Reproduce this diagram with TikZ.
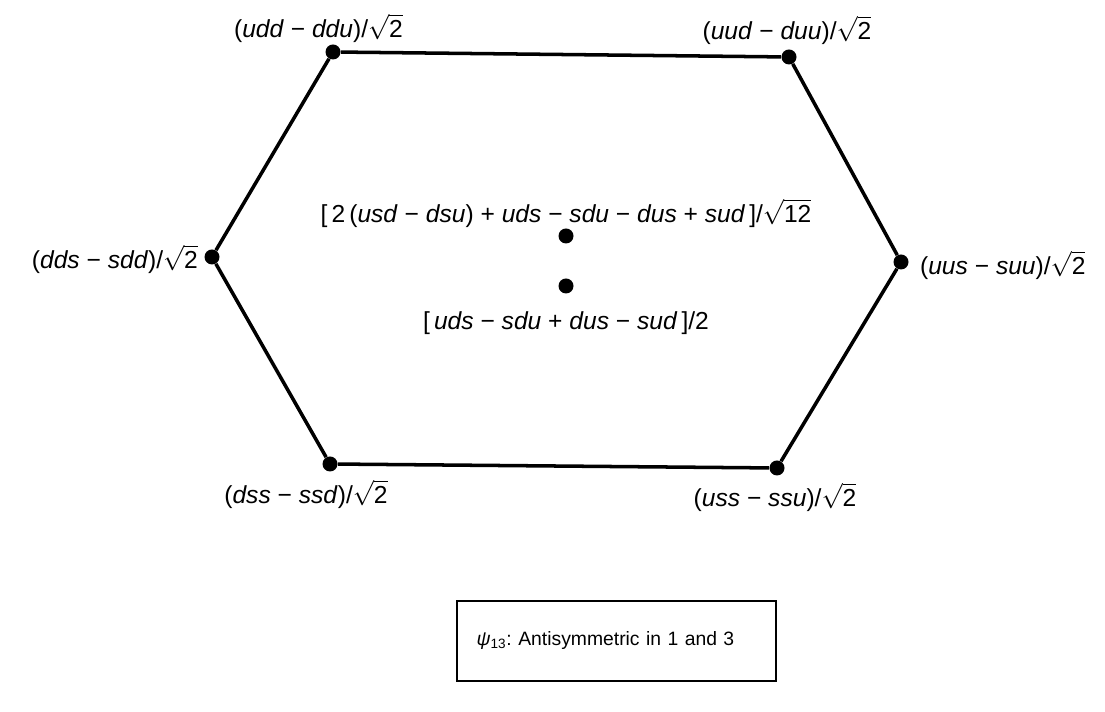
\documentclass[tikz,border=0pt]{standalone}
\usepackage{fontspec}
\setmainfont{Liberation Sans}
\usepackage{tikz}
\frenchspacing

\newcommand{\qk}[1]{\textit{#1}}
\newcommand{\rt}[1]{$\sqrt{\mbox{#1}}$}

\begin{document}
\begin{tikzpicture}[
    font=\fontsize{14}{17}\selectfont,
    vertex/.style={circle, fill=black, inner sep=0pt, minimum size=0.3cm},
    edge/.style={line width=2pt},
    lbl/.style={inner sep=1pt}
  ]
   \useasboundingbox (0,0) rectangle (22.1,14.24);
   % corners of the hexagon
   \node[vertex] (ul) at (6.66,13.20) {};
   \node[vertex] (ur) at (15.78,13.10) {};
   \node[vertex] (r)  at (18.02,9.00) {};
   \node[vertex] (lr) at (15.54,4.88) {};
   \node[vertex] (ll) at (6.60,4.96) {};
   \node[vertex] (l)  at (4.24,9.10) {};
   \draw[edge] (ul) -- (ur) -- (r) -- (lr) -- (ll) -- (l) -- (ul);
   % the two states in the middle
   \node[vertex] (c1) at (11.32,9.52) {};
   \node[vertex] (c2) at (11.32,8.52) {};
   % labels
   \node[lbl] (udd) at (6.37,13.68) {(\qk{udd} − \qk{ddu})/\rt{2}};
   \node[lbl] (uud) at (15.74,13.64) {(\qk{uud} − \qk{duu})/\rt{2}};
   \node[lbl, anchor=east] (dds) at (4.00,9.06) {(\qk{dds} − \qk{sdd})/\rt{2}};
   \node[lbl, anchor=west] (uus) at (18.36,8.94) {(\qk{uus} − \qk{suu})/\rt{2}};
   \node[lbl] (dss) at (6.12,4.36) {(\qk{dss} − \qk{ssd})/\rt{2}};
   \node[lbl] (uss) at (15.50,4.30) {(\qk{uss} − \qk{ssu})/\rt{2}};
   \node[lbl] (top) at (11.32,9.98)
      {[\,2\,(\qk{usd} − \qk{dsu}) + \qk{uds} − \qk{sdu} − \qk{dus} + \qk{sud}\,]/\rt{12}};
   \node[lbl] (bot) at (11.32,7.78)
      {[\,\qk{uds} − \qk{sdu} + \qk{dus} − \qk{sud}\,]/2};
   % caption box
   \node[draw, line width=1.2pt, text width=5.6cm, inner xsep=0.39cm,
         minimum height=1.6cm, align=left, font=\fontsize{11}{14}\selectfont]
         (cap) at (12.33,1.42)
      {\qk{ψ}\textsubscript{13}: Antisymmetric in 1 and 3};
\end{tikzpicture}
\end{document}
